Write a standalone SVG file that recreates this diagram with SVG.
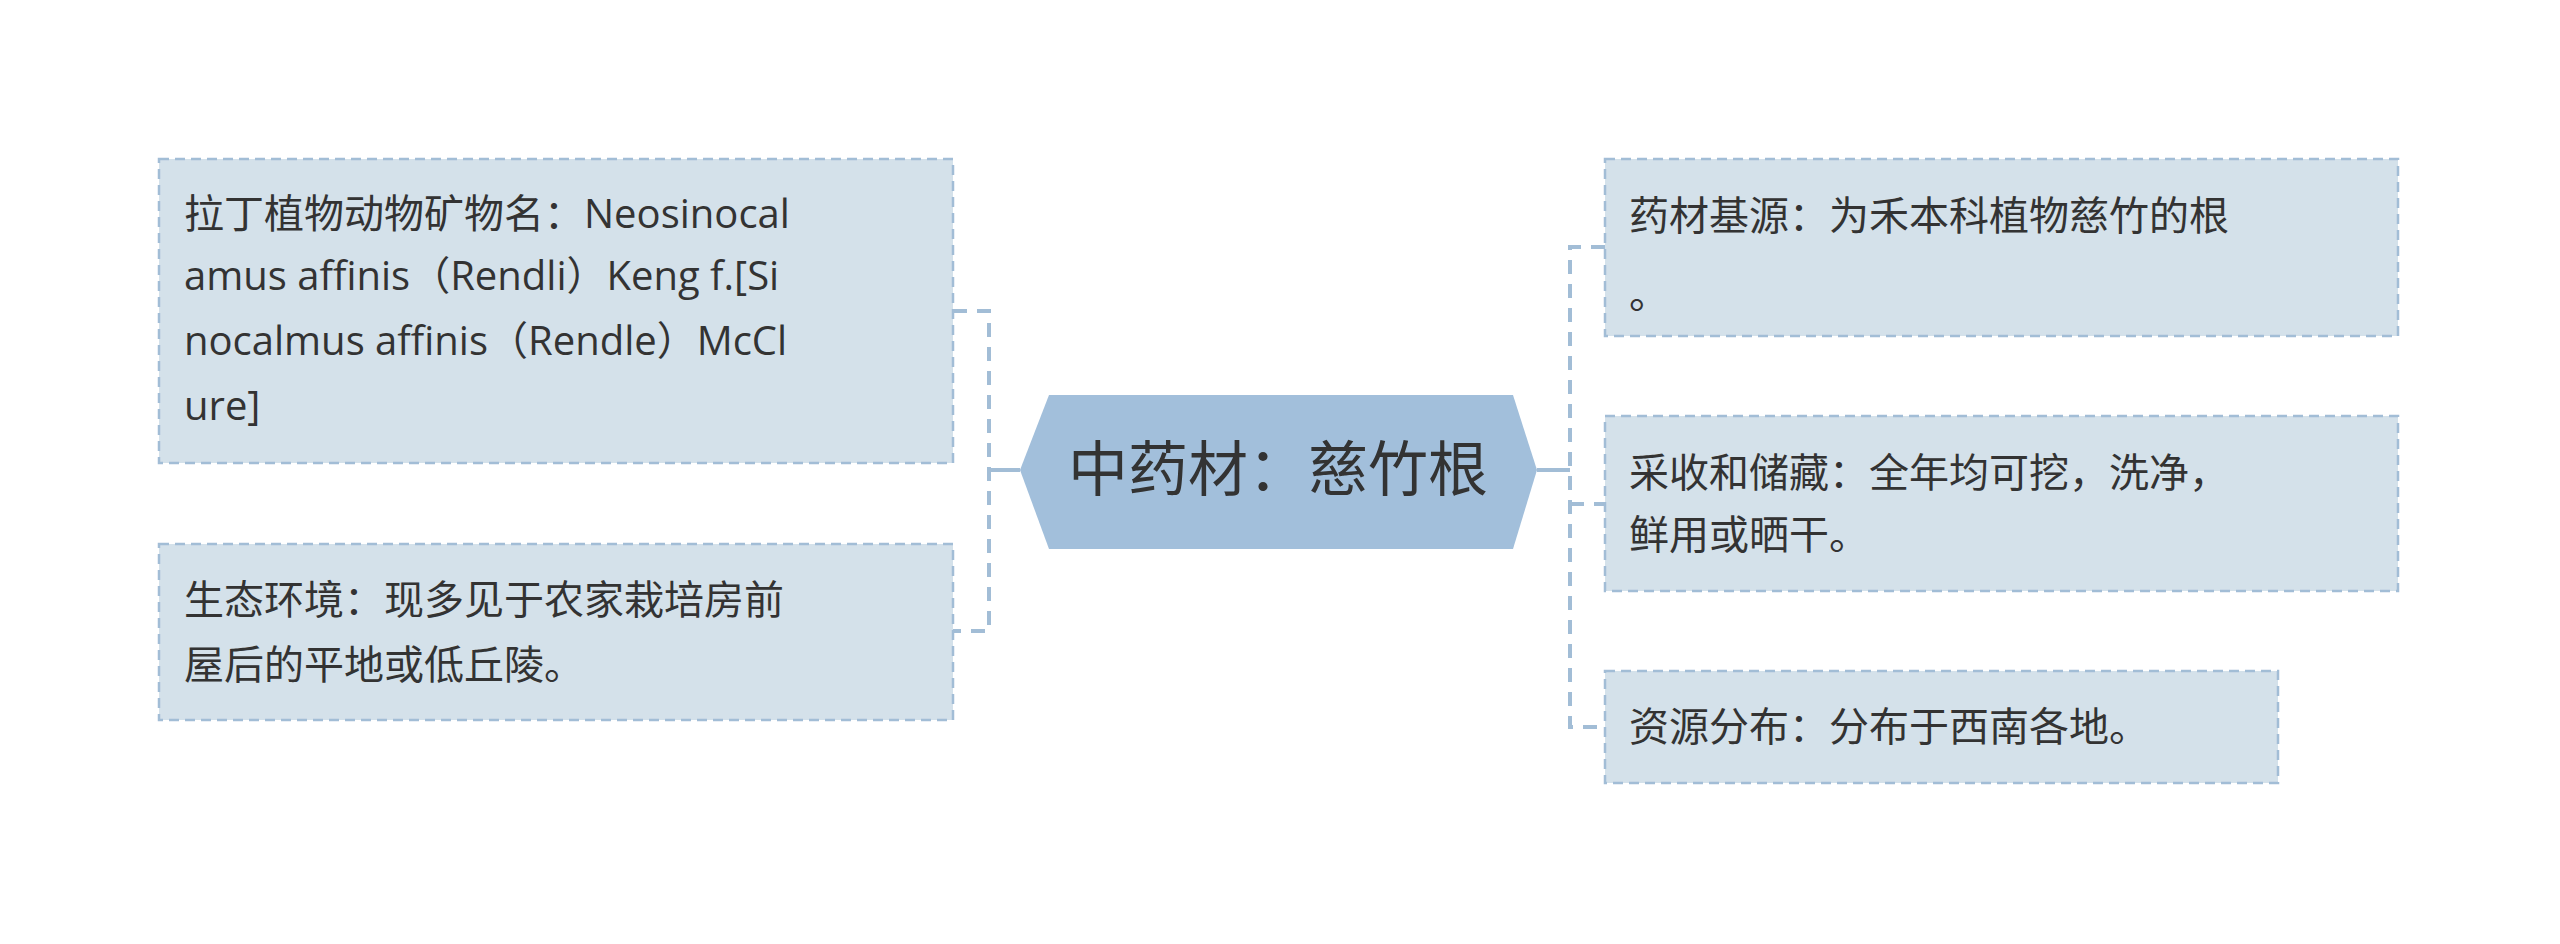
<svg xmlns="http://www.w3.org/2000/svg" width="2560" height="944" viewBox="0 0 2560 944">
<style>
.box{fill:#d4e1ea;stroke:#a2bdd6;stroke-width:2.5;stroke-dasharray:10 6}
.t{font-family:"Open Sans","Noto Sans CJK SC",sans-serif;font-size:40px;fill:#333}
.c{fill:none;stroke:#a2bdd6;stroke-width:4;stroke-dasharray:14 10}
.m{fill:none;stroke:#a2bdd6;stroke-width:4}
</style>
<rect width="2560" height="944" fill="#fff"/>
<g id="connectors">
<path class="m" d="M989 470H1020M1537 470H1570"/>
<path class="c" d="M953 311H989V631H953"/>
<path class="c" d="M1605 247H1570V727H1605M1570 504H1605"/>
</g>
<g id="center">
<polygon points="1020,470 1049,395 1513,395 1537,470 1513,549 1049,549" fill="#a2bfdb"/>
<text x="1278" y="491" text-anchor="middle" class="t" style="font-size:60px">中药材：慈竹根</text>
</g>
<g id="n1"><rect class="box" x="159" y="159" width="794" height="304"/>
<text class="t" x="184"><tspan x="184" y="228">拉丁植物动物矿物名：Neosinocal</tspan><tspan x="184" y="290">amus affinis（Rendli）Keng f.[Si</tspan><tspan x="184" y="355">nocalmus affinis（Rendle）McCl</tspan><tspan x="184" y="420">ure]</tspan></text></g>
<g id="n2"><rect class="box" x="159" y="544" width="794" height="176"/>
<text class="t"><tspan x="184" y="614">生态环境：现多见于农家栽培房前</tspan><tspan x="184" y="679">屋后的平地或低丘陵。</tspan></text></g>
<g id="n3"><rect class="box" x="1605" y="159" width="793" height="177"/>
<text class="t"><tspan x="1629" y="230">药材基源：为禾本科植物慈竹的根</tspan><tspan x="1629" y="308">。</tspan></text></g>
<g id="n4"><rect class="box" x="1605" y="416" width="793" height="175"/>
<text class="t"><tspan x="1629" y="487">采收和储藏：全年均可挖，洗净，</tspan><tspan x="1629" y="549">鲜用或晒干。</tspan></text></g>
<g id="n5"><rect class="box" x="1605" y="671" width="673" height="112"/>
<text class="t" x="1629" y="741">资源分布：分布于西南各地。</text></g>
</svg>
